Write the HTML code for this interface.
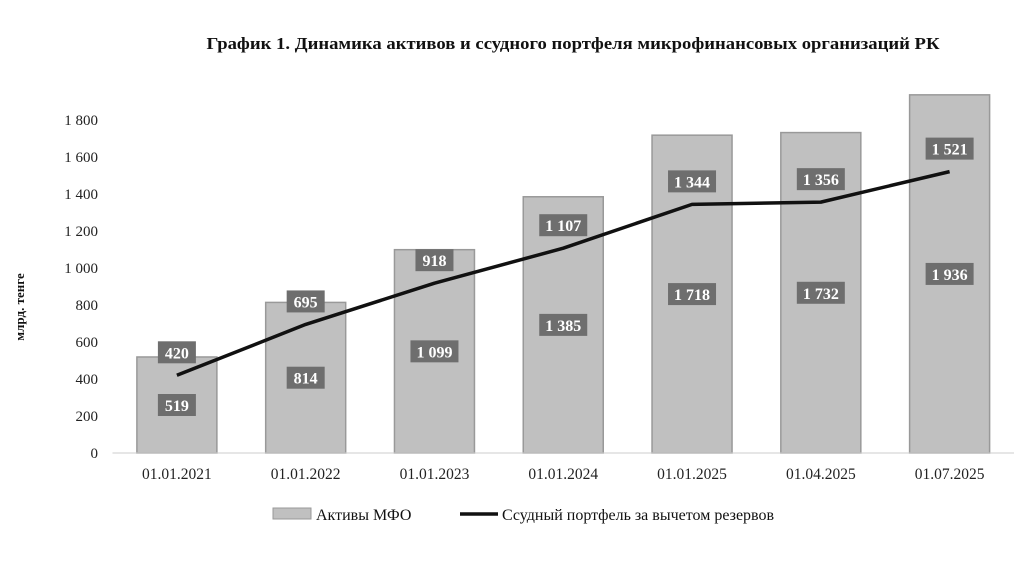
<!DOCTYPE html>
<html><head><meta charset="utf-8"><style>
body{margin:0;background:#fff;}
svg text{font-family:"Liberation Serif",serif;}
</style></head><body>
<svg width="1024" height="576" viewBox="0 0 1024 576" xmlns="http://www.w3.org/2000/svg">
<text x="573" y="49" text-anchor="middle" font-size="17" font-weight="bold" fill="#111" textLength="733" lengthAdjust="spacingAndGlyphs">График 1. Динамика активов и ссудного портфеля микрофинансовых организаций РК</text>
<text transform="translate(24,307) rotate(-90)" text-anchor="middle" font-size="13" font-weight="bold" fill="#111">млрд. тенге</text>
<g id="g"></g>
<g>
<rect x="273" y="508" width="38" height="11" fill="#c0c0c0" stroke="#999"/>
<text x="316" y="520" font-size="16" fill="#111">Активы МФО</text>
<line x1="460" y1="514" x2="498" y2="514" stroke="#111" stroke-width="3.5"/>
<text x="502" y="520" font-size="16" fill="#111">Ссудный портфель за вычетом резервов</text>
</g>
</svg>
<script>
const categories=["01.01.2021","01.01.2022","01.01.2023","01.01.2024","01.01.2025","01.04.2025","01.07.2025"];
const assets=[519,814,1099,1385,1718,1732,1936];
const portfolio=[420,695,918,1107,1344,1356,1521];
const yTicks=[0,200,400,600,800,1000,1200,1400,1600,1800];
const NS="http://www.w3.org/2000/svg";
const g=document.getElementById('g');
const x0=112.5,x1=1014,y0=453,yTop=120,yMax=1800;
const step=(x1-x0)/categories.length;
const X=i=>x0+step*(i+0.5);
const Y=v=>y0-(y0-yTop)*v/yMax;
const fmt=v=>v>=1000?Math.floor(v/1000)+" "+String(v%1000).padStart(3,"0"):String(v);
function mk(t,a){const e=document.createElementNS(NS,t);for(const k in a)e.setAttribute(k,a[k]);g.appendChild(e);return e;}
yTicks.forEach(v=>{
 const t=mk('text',{x:98,y:Y(v)+5,'text-anchor':'end','font-size':15,fill:'#222'});
 t.textContent=fmt(v);
 
 
});
categories.forEach((c,i)=>{
 const b=mk('rect',{x:X(i)-40,y:Y(assets[i]),width:80,height:y0-Y(assets[i]),fill:'#c0c0c0',stroke:'#999','stroke-width':1.5});
 
 
 const t=mk('text',{x:X(i),y:y0+26,'text-anchor':'middle','font-size':15.5,fill:'#222'});
 t.textContent=c;
 
 
});
const ax=mk('line',{x1:x0,y1:y0,x2:x1,y2:y0,stroke:'#ccc','stroke-width':1});


const pl=mk('polyline',{points:portfolio.map((v,i)=>X(i)+','+Y(v)).join(' '),fill:'none',stroke:'#111','stroke-width':3.5,'stroke-linejoin':'round'});


function label(cx,cy,v,name){
 const s=fmt(v);const w=s.length>3?48:38;
 const r=mk('rect',{x:cx-w/2,y:cy-11,width:w,height:22,fill:'#6e6e6e'});
 
 
 const t=mk('text',{x:cx,y:cy+6,'text-anchor':'middle','font-size':16,'font-weight':'bold',fill:'#fff'});
 t.textContent=s;
 
 
}
assets.forEach((v,i)=>label(X(i),(Y(v)+y0)/2,v,'bar-value-label'));
portfolio.forEach((v,i)=>label(X(i),Y(v)-23,v,'line-value-label'));
</script>
</body></html>
